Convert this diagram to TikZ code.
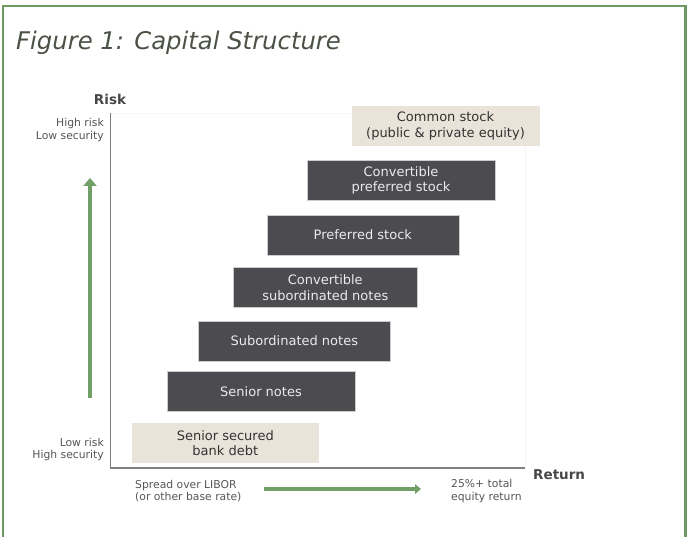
\documentclass[tikz,border=0pt]{standalone}
\usepackage{fontspec}
\setmainfont{DejaVu Sans}
\usetikzlibrary{arrows.meta}

\definecolor{framegreen}{HTML}{6C9A62}
\definecolor{arrowgreen}{HTML}{70A066}
\definecolor{darkbox}{HTML}{4B4B50}
\definecolor{lightbox}{HTML}{E9E3DA}
\definecolor{titlegray}{HTML}{4B5245}
\definecolor{labelgray}{HTML}{555555}

\begin{document}
\begin{tikzpicture}[x=1pt,y=-1pt]
\tikzset{
  every node/.style={inner sep=0pt},
  tier/.style={minimum width=188pt,minimum height=40pt,align=center,
    font=\fontsize{13}{15.5}\selectfont},
  debt/.style={tier,fill=darkbox,draw=black!20,line width=0.6pt,text=white!92!black},
  equity/.style={tier,fill=lightbox,text=black!80},
  note/.style={font=\fontsize{10.8}{12.5}\selectfont,text=labelgray},
  axislabel/.style={font=\bfseries\fontsize{13.5}{15}\selectfont,text=black!72},
  trend/.style={draw=arrowgreen}
}
\useasboundingbox (0,0) rectangle (688,537);

% Frame and title
\draw[framegreen,line width=2.2pt] (3,537) -- (3,6) -- (685.5,6) -- (685.5,537);
\node[anchor=base west,font=\itshape\fontsize{24.3}{28}\selectfont,text=titlegray] (title) at (16,50) {Figure 1: Capital Structure};

% Axes
\coordinate (ytop) at (110.5,113);
\coordinate (origin) at (110.5,468);
\coordinate (xend) at (525,468);
\draw[black!4,line width=0.8pt] (ytop) rectangle (xend);
\draw[black!50,line width=1.4pt] (ytop) -- (origin) -- (xend);

\node[axislabel] (risk) at (110,99) {Risk};
\node[axislabel,anchor=west] (ret) at (533,475) {Return};
\node[note,align=right,anchor=east] (hirisk) at (104,130) {High risk\\Low security};
\node[note,align=right,anchor=east] (lorisk) at (104,449.5) {Low risk\\High security};
\node[note,align=left,anchor=west] (spread) at (135,491) {Spread over LIBOR\\(or other base rate)};
\node[note,align=left,anchor=west] (eqret) at (451,491) {25\%+ total\\equity return};

% Tiers of the structure, safest at the bottom
\node[equity] (common) at (445.5,126) {Common stock\\(public \& private equity)};
\node[debt] (cpref) at (401,180.5) {Convertible\\preferred stock};
\node[debt,minimum width=192pt] (pref) at (362.8,235) {Preferred stock};
\node[debt,minimum width=184pt] (csub) at (325.3,287.5) {Convertible\\subordinated notes};
\node[debt,minimum width=192pt] (sub) at (294.3,341) {Subordinated notes};
\node[debt] (senior) at (261,391.7) {Senior notes};
\node[equity,minimum width=187pt] (bank) at (225.3,443) {Senior secured\\bank debt};

% Green arrows
\coordinate (riskfrom) at (90,398);
\coordinate (riskto) at (90,178);
\draw[trend,line width=4pt,-{Triangle[width=13pt,length=8pt]}] (riskfrom) -- (riskto);
\coordinate (retfrom) at (264,489);
\coordinate (retto) at (421,489);
\draw[trend,line width=3.3pt,-{Triangle[width=9.5pt,length=6pt]}] (retfrom) -- (retto);

\end{tikzpicture}
\end{document}
